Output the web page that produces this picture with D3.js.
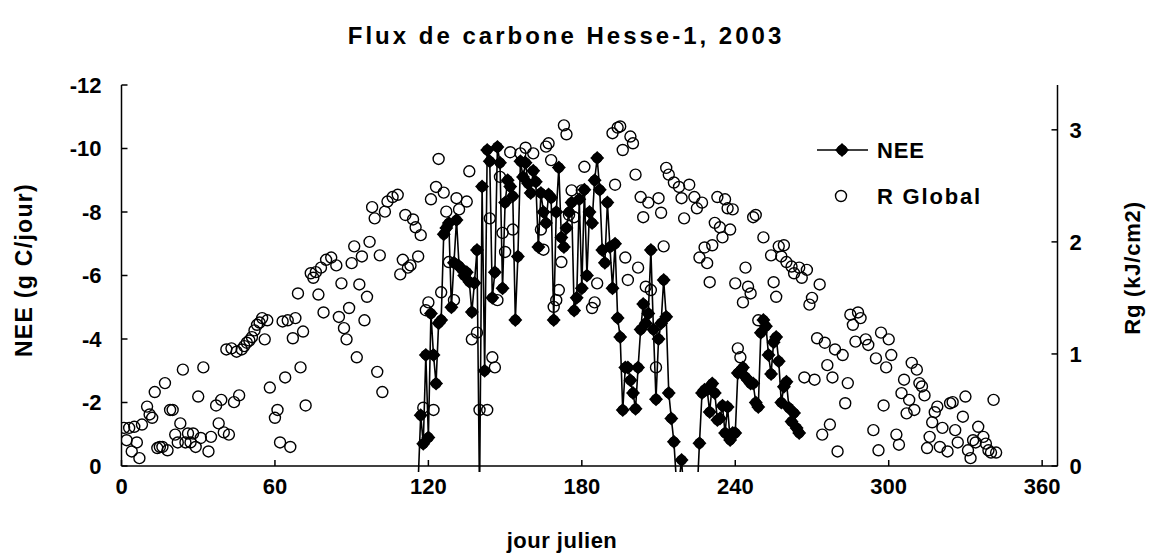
<!DOCTYPE html>
<html><head><meta charset="utf-8">
<script src="https://cdn.jsdelivr.net/npm/d3@7"></script>
<style>body{margin:0;background:#fff}svg text{font-family:"Liberation Sans",Arial,sans-serif;font-weight:bold;fill:#000}</style>
</head><body><svg id="c" width="1153" height="553"></svg>
<script>
const title = "Flux de carbone Hesse-1, 2003";
const xLabel = "jour julien";
const yLeftLabel = "NEE (g C/jour)";
const yRightLabel = "Rg  (kJ/cm2)";
const xTicks = [0,60,120,180,240,300,360];
const yLeftTicks = [0,-2,-4,-6,-8,-10,-12];
const yRightTicks = [0,1,2,3];

const rgDay = [1,2,3,4,5,6,7,8,10,11,12,13,14,15,16,17,18,19,20,21,22,23,24,25,26,27,28,29,30,31,32,34,35,37,38,39,40,41,42,43,44,45,46,47,48,49,50,51,52,53,54,55,56,57,58,60,61,62,63,64,65,66,67,68,69,70,71,72,74,75,76,77,78,79,80,82,84,85,86,87,88,89,90,91,92,93,94,95,96,97,98,99,100,101,102,103,104,106,108,109,110,111,112,113,114,115,116,117,118,119,120,121,122,123,124,125,126,127,128,130,131,132,135,136,137,139,140,143,144,145,146,147,148,149,150,152,153,156,158,161,164,165,166,167,168,169,170,171,172,173,174,175,176,177,180,181,184,185,186,192,193,194,195,196,197,198,199,200,201,202,203,204,205,206,207,209,210,211,212,213,214,216,218,219,220,222,224,225,226,227,228,229,230,231,232,233,234,235,236,237,238,239,240,241,242,243,244,245,246,247,248,249,251,254,255,256,257,258,259,260,262,263,265,266,267,268,269,270,271,272,273,274,275,276,277,278,279,280,282,283,284,285,286,287,288,289,291,292,294,295,296,297,298,299,300,301,303,304,305,306,307,308,309,310,311,312,313,314,315,316,317,318,319,320,321,323,324,325,326,327,329,330,331,332,333,334,335,337,338,339,340,341,342];
const rgValue = [0.34,0.23,0.34,0.13,0.35,0.21,0.07,0.37,0.53,0.46,0.43,0.66,0.16,0.17,0.17,0.74,0.14,0.50,0.50,0.28,0.21,0.38,0.86,0.21,0.29,0.21,0.29,0.17,0.62,0.25,0.88,0.13,0.26,0.54,0.38,0.59,0.30,1.04,0.28,1.05,0.57,1.02,0.63,1.04,1.07,1.10,1.12,1.15,1.21,1.26,1.28,1.32,1.13,1.30,0.70,0.43,0.50,0.21,1.29,0.79,1.30,0.17,1.14,1.32,1.54,0.88,1.20,0.54,1.72,1.68,1.73,1.53,1.77,1.37,1.84,1.86,1.79,1.33,1.63,1.23,1.13,1.41,1.81,1.96,0.97,1.62,1.87,1.30,1.51,2.00,2.31,2.21,0.84,1.88,0.66,2.27,2.36,2.40,2.42,1.71,1.84,2.24,1.77,1.79,2.20,2.13,1.87,2.06,0.52,1.39,1.46,2.38,0.50,2.49,2.74,1.55,2.44,2.27,1.82,1.48,2.39,2.29,2.36,2.63,1.13,1.19,0.50,0.50,2.21,0.97,0.88,1.48,2.58,2.08,1.91,2.80,2.11,2.79,2.84,2.79,2.11,1.93,2.85,2.88,2.73,1.42,1.48,1.57,1.82,3.04,2.96,2.24,2.46,2.22,2.46,2.67,1.41,1.46,1.63,2.97,2.51,3.02,3.03,2.82,1.86,1.66,2.94,2.88,2.60,1.77,2.40,2.22,1.60,2.35,1.57,0.88,2.39,2.26,1.96,2.66,2.60,2.53,2.49,2.39,2.21,2.51,2.40,2.30,1.86,2.35,1.95,1.81,1.64,1.97,2.17,2.40,2.13,2.04,2.38,2.30,2.11,2.29,1.63,1.05,0.97,1.46,1.77,1.60,1.54,2.22,2.24,1.30,2.04,1.88,1.64,1.51,1.96,1.87,1.97,1.82,1.78,1.72,1.77,1.68,0.79,1.75,1.44,1.50,0.77,1.14,1.62,0.28,1.10,0.90,0.37,0.79,1.04,0.13,0.99,0.56,0.74,1.35,1.26,1.11,1.37,1.32,1.13,1.08,0.32,0.96,0.14,1.19,0.54,0.88,1.13,0.99,0.28,0.19,0.65,0.77,0.47,0.59,0.92,0.50,0.86,0.74,0.71,0.63,0.16,0.26,0.39,0.48,0.53,0.17,0.34,0.13,0.56,0.57,0.32,0.21,0.44,0.62,0.14,0.07,0.23,0.21,0.35,0.26,0.20,0.14,0.12,0.59,0.12];

const neeDay = [116,117,118,119,120,121,122,123,124,125,126,127,128,129,130,131,132,133,134,135,136,137,138,139,140,141,142,143,144,145,146,147,148,149,150,151,152,153,154,155,156,157,158,159,160,161,162,163,164,165,166,167,168,169,170,171,172,173,174,175,176,177,178,179,180,181,182,183,184,185,186,187,188,189,190,191,192,193,194,195,196,197,198,199,200,201,202,203,204,205,206,207,208,209,210,211,212,213,214,215,216,217,218,219,220,221,222,223,224,225,226,227,228,229,230,231,232,233,234,235,236,237,238,239,240,241,242,243,244,245,246,247,248,249,250,251,252,253,254,255,256,257,258,259,260,261,262,263,264,265];
const neeValue = [0.5,-1.6,-0.7,-3.5,-0.9,-4.8,-3.5,-2.6,-4.5,-4.6,-7.3,-7.5,-7.65,-5.0,-6.4,-7.75,-6.3,-6.2,-6.0,-6.1,-5.8,-4.85,-5.76,-6.8,1.0,-8.8,-3.0,-9.95,-9.6,-5.3,-6.1,-10.05,-9.55,-5.6,-8.3,-9.0,-8.8,-8.5,-4.6,-6.6,-9.6,-9.1,-9.55,-8.9,-8.6,-9.3,-8.95,-6.9,-8.6,-8.0,-7.65,-8.55,-8.45,-4.6,-8.0,-9.4,-7.2,-6.9,-7.5,-8.0,-8.3,-4.9,-5.3,-8.4,-5.6,-8.7,-6.0,-8.0,-7.65,-9.0,-9.7,-8.7,-6.8,-6.4,-8.3,-6.9,-5.6,-7.0,-4.66,-4.06,-1.76,-3.1,-3.1,-2.7,-2.3,-1.8,-3.1,-4.3,-5.1,-4.5,-4.8,-6.8,-4.3,-2.1,-4.0,-4.5,-5.86,-4.7,-2.3,-1.5,-0.76,0.5,0.5,-0.19,1.0,1.0,1.0,1.0,1.0,1.0,-0.72,-2.3,-2.4,-2.4,-1.7,-2.6,-2.3,-1.45,-1.5,-1.9,-1.04,-1.86,-0.82,-1.04,-1.04,-2.93,-3.0,-3.1,-2.8,-2.7,-2.6,-2.6,-2.0,-1.86,-4.2,-4.6,-4.4,-3.5,-2.9,-3.9,-4.06,-3.3,-2.0,-2.5,-2.65,-1.83,-1.4,-1.67,-1.2,-1.04];

const svg = d3.select("#c");
const x = d3.scaleLinear().domain([0,366]).range([121.5,1057.5]);
const yL = d3.scaleLinear().domain([0,-12]).range([466,85]);
const yR = d3.scaleLinear().domain([0,3.4]).range([466,85]);

svg.append("defs").append("clipPath").attr("id","clip").append("rect")
  .attr("x",x(0)).attr("y",yL(-12)-10).attr("width",x(366)-x(0)).attr("height",yL(0)-yL(-12)+16);

// axes
const ax = svg.append("g").attr("stroke","#000").attr("stroke-width",1.5);
ax.append("line").attr("x1",x(0)).attr("x2",x(0)).attr("y1",yL(-12)).attr("y2",yL(0));
ax.append("line").attr("x1",x(366)).attr("x2",x(366)).attr("y1",yL(-12)).attr("y2",yL(0));
ax.append("line").attr("x1",x(0)).attr("x2",x(366)).attr("y1",yL(0)).attr("y2",yL(0));
yLeftTicks.forEach(t=>ax.append("line").attr("x1",x(0)).attr("x2",x(0)+6).attr("y1",yL(t)).attr("y2",yL(t)));
yRightTicks.forEach(t=>ax.append("line").attr("x1",x(366)).attr("x2",x(366)-6).attr("y1",yR(t)).attr("y2",yR(t)));
xTicks.forEach(t=>ax.append("line").attr("x1",x(t)).attr("x2",x(t)).attr("y1",yL(0)).attr("y2",yL(0)-6));

svg.selectAll(".tl").data(yLeftTicks).join("text").attr("x",x(0)-20).attr("y",d=>yL(d)).attr("dy","0.35em")
  .attr("text-anchor","end").attr("font-size",22).text(d=>d);
svg.selectAll(".tr").data(yRightTicks).join("text").attr("x",x(366)+12).attr("y",d=>yR(d)).attr("dy","0.35em")
  .attr("text-anchor","start").attr("font-size",22).text(d=>d);
svg.selectAll(".tb").data(xTicks).join("text").attr("x",d=>x(d)).attr("y",yL(0)+28)
  .attr("text-anchor","middle").attr("font-size",22).text(d=>d);

svg.append("text").attr("x",566).attr("y",44).attr("text-anchor","middle").attr("font-size",24).attr("letter-spacing",3).text(title);
svg.append("text").attr("x",562).attr("y",548).attr("text-anchor","middle").attr("font-size",22).attr("letter-spacing",0.5).text(xLabel);
svg.append("text").attr("transform","translate(32,270) rotate(-90)").attr("text-anchor","middle").attr("font-size",23).attr("letter-spacing",1.3).text(yLeftLabel);
svg.append("text").attr("transform","translate(1140,268) rotate(-90)").attr("text-anchor","middle").attr("font-size",22).attr("letter-spacing",0.8).text(yRightLabel);

const plot = svg.append("g").attr("clip-path","url(#clip)");
const line = d3.line().x((d,i)=>x(neeDay[i])).y((d,i)=>yL(neeValue[i]));
plot.append("path").datum(neeValue).attr("d",line).attr("fill","none").attr("stroke","#000").attr("stroke-width",1.6);
const dia = "M0,-7L7,0L0,7L-7,0Z";
const mk = plot.selectAll(".nee").data(neeValue).join("g")
  .attr("transform",(d,i)=>`translate(${x(neeDay[i])},${yL(d)})`);
mk.append("path").attr("d",dia).attr("fill","#000");
mk.append("circle").attr("r",5.3).attr("fill","#000");
plot.selectAll(".rg").data(rgValue).join("circle").attr("cx",(d,i)=>x(rgDay[i])).attr("cy",d=>yR(d))
  .attr("r",5.5).attr("fill","none").attr("stroke","#000").attr("stroke-width",1.4);

// legend
const lg = svg.append("g");
lg.append("line").attr("x1",817).attr("x2",868).attr("y1",150).attr("y2",150).attr("stroke","#000").attr("stroke-width",1.6);
const lm = lg.append("g").attr("transform","translate(842,150)");
lm.append("path").attr("d",dia).attr("fill","#000");
lm.append("circle").attr("r",5.3).attr("fill","#000");
lg.append("text").attr("x",877).attr("y",150).attr("dy","0.35em").attr("font-size",22).attr("letter-spacing",0.8).text("NEE");
lg.append("circle").attr("cx",841).attr("cy",196).attr("r",5.5).attr("fill","none").attr("stroke","#000").attr("stroke-width",1.4);
lg.append("text").attr("x",877).attr("y",196).attr("dy","0.35em").attr("font-size",22).attr("letter-spacing",1.8).text("R Global");
</script></body></html>
